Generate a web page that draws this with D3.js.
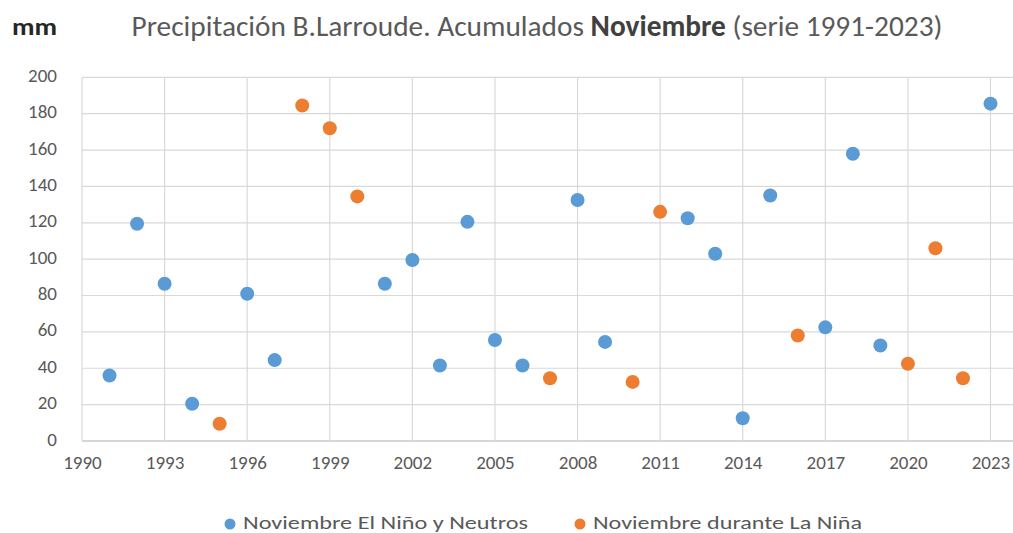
<!DOCTYPE html>
<html><head><meta charset="utf-8">
<script src="https://cdn.jsdelivr.net/npm/d3@7"></script>
<style>
html,body{margin:0;padding:0;background:#fff;overflow:hidden}
text{font-family:Carlito,Lato,"Open Sans",sans-serif}
</style></head>
<body><svg id="c" width="1013" height="533"></svg>
<script>
const neutroYears = [1991,1992,1993,1994,1996,1997,2001,2002,2003,2004,2005,2006,2008,2009,2012,2013,2014,2015,2017,2018,2019,2023];
const neutroValues = [36,119.5,86.5,20.5,81,44.5,86.5,99.5,41.5,120.5,55.5,41.5,132.5,54.5,122.5,103,12.5,135,62.5,158,52.5,185.5];
const ninaYears = [1995,1998,1999,2000,2007,2010,2011,2016,2020,2021,2022];
const ninaValues = [9.5,184.5,172,134.5,34.5,32.5,126,58,42.5,106,34.5];
const xTicks = [1990,1993,1996,1999,2002,2005,2008,2011,2014,2017,2020,2023];
const yTicks = [0,20,40,60,80,100,120,140,160,180,200];
const seriesNames = ["Noviembre El Niño y Neutros","Noviembre durante La Niña"];
const colors = ["#5B9BD5","#ED7D31"];

const svg = d3.select("#c");
const x = d3.scaleLinear().domain([1990,2023]).range([82,990.5]);
const y = d3.scaleLinear().domain([0,200]).range([441,77.3]);
const xRight = x(2024);

// grid
const g = svg.append("g");
g.selectAll("line.h").data(yTicks).join("line")
  .attr("x1",x(1990)).attr("x2",xRight)
  .attr("y1",d=>y(d)).attr("y2",d=>y(d))
  .attr("stroke",d=>d===0?"#c8c8c8":"#d9d9d9").attr("stroke-width",d=>d===0?1.5:1.2);
g.selectAll("line.v").data(xTicks).join("line")
  .attr("x1",d=>x(d)).attr("x2",d=>x(d))
  .attr("y1",y(200)).attr("y2",y(0))
  .attr("stroke","#d9d9d9").attr("stroke-width",1.2);

// axes labels
const yAxis = d3.axisLeft(y).tickValues(yTicks).tickSize(0).tickPadding(0);
const ya = svg.append("g").attr("transform","translate(57,-2)").call(yAxis);
ya.select(".domain").remove();
ya.selectAll("text").attr("font-size",19).attr("fill","#595959");

const xAxis = d3.axisBottom(x).tickValues(xTicks).tickFormat(d3.format("d")).tickSize(0).tickPadding(0);
const xa = svg.append("g").attr("transform","translate(0,455)").call(xAxis);
xa.select(".domain").remove();
xa.selectAll("text").attr("font-size",19).attr("fill","#595959");

// points
const neutro = neutroYears.map((yr,i)=>({x:yr,v:neutroValues[i]}));
const nina = ninaYears.map((yr,i)=>({x:yr,v:ninaValues[i]}));
svg.append("g").selectAll("circle").data(neutro).join("circle")
  .attr("cx",d=>x(d.x)).attr("cy",d=>y(d.v)).attr("r",7).attr("fill",colors[0]);
svg.append("g").selectAll("circle").data(nina).join("circle")
  .attr("cx",d=>x(d.x)).attr("cy",d=>y(d.v)).attr("r",7).attr("fill",colors[1]);

// title
svg.append("text").attr("x",12).attr("y",35).attr("font-size",25).attr("font-weight","bold").attr("fill","#262626")
  .attr("textLength",45).attr("lengthAdjust","spacingAndGlyphs").text("mm");
const t = svg.append("text").attr("x",537).attr("y",36).attr("text-anchor","middle").attr("font-size",21).attr("fill","#595959");
t.append("tspan").text("Precipitación B.Larroude. Acumulados ");
t.append("tspan").attr("font-weight","bold").attr("fill","#404040").text("Noviembre");
t.append("tspan").text(" (serie 1991-2023)");
const len = t.node().getComputedTextLength();
t.attr("font-size",21*811/len);

// legend
const leg = svg.append("g");
const legX = [230,580];
const legW = [285,269];
seriesNames.forEach((n,i)=>{
  leg.append("circle").attr("cx",legX[i]).attr("cy",524).attr("r",5.5).attr("fill",colors[i]);
  leg.append("text").attr("x",legX[i]+13).attr("y",529).attr("font-size",19).attr("fill","#595959")
    .attr("textLength",legW[i]).attr("lengthAdjust","spacingAndGlyphs").text(n);
});
</script></body></html>
